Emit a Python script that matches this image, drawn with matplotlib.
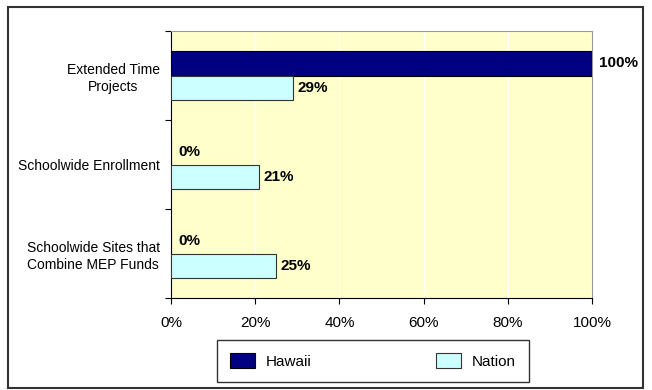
import numpy as np
import matplotlib.pyplot as plt
from matplotlib.patches import Patch, Rectangle

# data
categories = ["Extended Time\nProjects", "Schoolwide Enrollment",
              "Schoolwide Sites that\nCombine MEP Funds"]
hawaii = [100, 0, 0]
nation = [29, 21, 25]
series_names = ["Hawaii", "Nation"]
xticks = [0, 20, 40, 60, 80, 100]

plt.rcParams['font.family'] = ['Liberation Sans', 'DejaVu Sans']

fig = plt.figure(figsize=(6.52, 3.9), dpi=100)
ax = fig.add_axes([0.2623, 0.2359, 0.646, 0.6846])
ax.set_facecolor('#FFFFCC')

y = np.arange(len(categories))
h = 0.28
ax.barh(y - h / 2, hawaii, height=h, color='#000080', edgecolor='black', linewidth=0.8, zorder=3)
ax.barh(y + h / 2, nation, height=h, color='#CCFFFF', edgecolor='#333333', linewidth=0.8, zorder=3)

for yy, v in zip(y - h / 2, hawaii):
    ax.annotate(f"{v}%", (v, yy), xytext=(5, 0), textcoords='offset points',
                va='center', ha='left', fontsize=11, fontweight='bold', annotation_clip=False)
for yy, v in zip(y + h / 2, nation):
    ax.annotate(f"{v}%", (v, yy), xytext=(3, 0), textcoords='offset points',
                va='center', ha='left', fontsize=11, fontweight='bold', annotation_clip=False)

ax.set_xlim(0, 100)
ax.set_ylim(len(categories) - 0.5, -0.5)
ax.set_xticks(xticks)
ax.set_xticklabels([f"{t}%" for t in xticks], fontsize=11)
ax.xaxis.grid(True, color='white', linewidth=1, zorder=0)

# category boundaries as major ticks, labels on minor ticks
ax.set_yticks(np.arange(len(categories) + 1) - 0.5)
ax.set_yticklabels([])
ax.set_yticks(y, minor=True)
ax.set_yticklabels(categories, minor=True, fontsize=10, multialignment='center',
                   linespacing=1.3)
ax.tick_params(axis='y', which='minor', length=0, pad=8)
ax.tick_params(axis='y', which='major', length=4, direction='out')
ax.tick_params(axis='x', length=4, direction='out', pad=9)

for s in ['top', 'right']:
    ax.spines[s].set_color('#999999')
for s in ['left', 'bottom']:
    ax.spines[s].set_color('black')

handles = [Patch(facecolor='#000080', edgecolor='black', linewidth=0.8),
           Patch(facecolor='#CCFFFF', edgecolor='#333333', linewidth=0.8)]
leg = fig.legend(handles, series_names, loc='center', bbox_to_anchor=(0.572, 0.074),
                 ncol=2, fontsize=11, frameon=True, fancybox=False, edgecolor='black',
                 handlelength=1.6, handleheight=1.1, handletextpad=0.7,
                 columnspacing=8.2, borderpad=0.85)
leg.get_frame().set_linewidth(1.0)

fig.patches.append(Rectangle((8 / 652, 2 / 390), 635 / 652, 381 / 390, transform=fig.transFigure,
                             fill=False, edgecolor='#333333', linewidth=1.5))

fig.savefig('out.png', dpi=100)
